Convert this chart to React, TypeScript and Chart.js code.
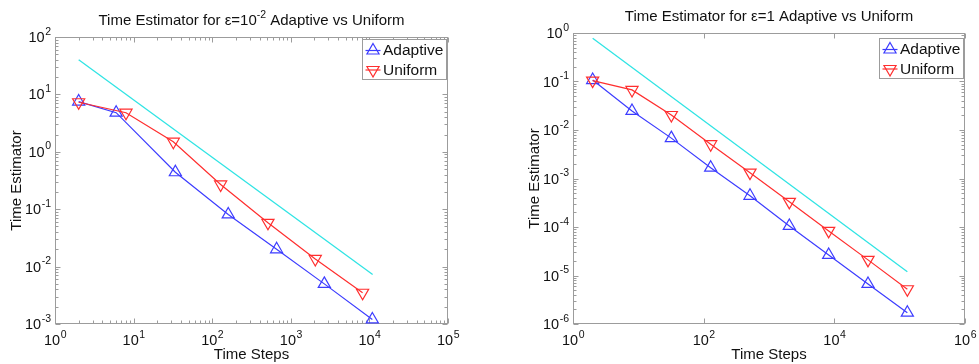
import React, { useEffect, useRef } from 'react';
import { Chart, registerables } from 'chart.js';

Chart.register(...registerables);

// ---------- data ----------
const leftAdaptiveSteps = [2, 6, 34, 160, 660, 2670, 10900];
const leftAdaptiveEst = [7.5, 4.8, 0.44, 0.081, 0.02, 0.005, 0.0012];
const leftUniformSteps = [2, 8, 32, 128, 512, 2048, 8192];
const leftUniformEst = [7.3, 4.8, 1.5, 0.27, 0.058, 0.0136, 0.0035];
const leftRefSteps = [2, 11000];
const leftRefEst = [40, 0.0073];

const rightSteps = [2, 8, 32, 128, 512, 2048, 8192, 32768, 131072];
const rightAdaptiveEst = [0.107, 0.0247, 0.0068, 0.00167, 0.00044, 0.000105, 0.0000265, 0.0000067, 0.00000171];
const rightUniformEst = [0.104, 0.067, 0.0204, 0.0051, 0.00132, 0.00033, 0.000083, 0.000021, 0.0000052];
const rightRefSteps = [2, 131072];
const rightRefEst = [0.78, 0.000012];

// tick exponents (labels are 10^exp)
const leftXTickExp = [0, 1, 2, 3, 4, 5];
const leftYTickExp = [-3, -2, -1, 0, 1, 2];
const rightXTickExp = [0, 2, 4, 6];
const rightYTickExp = [-6, -5, -4, -3, -2, -1, 0];

const leftTitle = [
  { t: 'Time Estimator for \u03b5=10' },
  { t: '-2', sup: true },
  { t: ' Adaptive vs Uniform' },
];
const rightTitle = [{ t: 'Time Estimator for \u03b5=1 Adaptive vs Uniform' }];
const xTitle = 'Time Steps';
const yTitle = 'Time Estimator';
const seriesNames = ['Adaptive', 'Uniform'];

// ---------- styles ----------
const FONT = "'Liberation Sans', Arial, Helvetica, sans-serif";
const AXIS_COLOR = '#9c9c9c';
const TEXT_COLOR = '#111111';
const BLUE = '#3c3cff';
const RED = '#ff2e2e';
const CYAN = '#30e4e4';
const MARKER_R = 7;

function pts(xs: number[], ys: number[]) {
  return xs.map((x, i) => ({ x, y: ys[i] }));
}

function drawTri(ctx: CanvasRenderingContext2D, x: number, y: number, r: number, down: boolean) {
  let rad = down ? Math.PI : 0;
  ctx.beginPath();
  for (let i = 0; i < 3; i++) {
    const px = x + Math.sin(rad) * r;
    const py = y - Math.cos(rad) * r;
    if (i === 0) ctx.moveTo(px, py);
    else ctx.lineTo(px, py);
    rad += (2 * Math.PI) / 3;
  }
  ctx.closePath();
  ctx.stroke();
}

function powWidth(ctx: CanvasRenderingContext2D, exp: string) {
  ctx.font = `14.5px ${FONT}`;
  const w1 = ctx.measureText('10').width;
  ctx.font = `10.5px ${FONT}`;
  const w2 = ctx.measureText(exp).width;
  return [w1, w2];
}

function drawPow(ctx: CanvasRenderingContext2D, exp: string, x: number, baseline: number) {
  ctx.textAlign = 'left';
  ctx.textBaseline = 'alphabetic';
  ctx.font = `14.5px ${FONT}`;
  ctx.fillText('10', x, baseline);
  const w1 = ctx.measureText('10').width;
  ctx.font = `10.5px ${FONT}`;
  ctx.fillText(exp, x + w1 + 0.5, baseline - 7.5);
}

interface AxCfg {
  xExp: number[];
  yExp: number[];
  xMinor: boolean;
  yMinor: boolean;
  title: { t: string; sup?: boolean }[];
  legendTop: number;
}

function minorValues(exps: number[]) {
  const out: number[] = [];
  const lo = Math.min(...exps);
  const hi = Math.max(...exps);
  for (let d = lo; d < hi; d++) {
    for (let k = 2; k <= 9; k++) out.push(k * Math.pow(10, d));
  }
  return out;
}

function makePlugin(cfg: AxCfg) {
  return {
    id: 'matlabAxes',
    beforeDatasetsDraw(chart: any) {
      const { ctx, chartArea: a, scales } = chart;
      const xs = scales.x;
      const ys = scales.y;
      ctx.save();
      ctx.strokeStyle = AXIS_COLOR;
      ctx.lineWidth = 1;
      const L = Math.round(a.left) + 0.5;
      const R = Math.round(a.right) - 0.5;
      const T = Math.round(a.top) + 0.5;
      const B = Math.round(a.bottom) - 0.5;
      ctx.strokeRect(L, T, R - L, B - T);
      const xMajor = cfg.xExp.map((e) => Math.pow(10, e));
      const yMajor = cfg.yExp.map((e) => Math.pow(10, e));
      const xMin = cfg.xMinor ? minorValues(cfg.xExp) : [];
      const yMin = cfg.yMinor ? minorValues(cfg.yExp) : [];
      ctx.beginPath();
      const xt = (v: number, len: number) => {
        const p = Math.round(xs.getPixelForValue(v)) + 0.5;
        ctx.moveTo(p, B);
        ctx.lineTo(p, B - len);
        ctx.moveTo(p, T);
        ctx.lineTo(p, T + len);
      };
      const yt = (v: number, len: number) => {
        const p = Math.round(ys.getPixelForValue(v)) + 0.5;
        ctx.moveTo(L, p);
        ctx.lineTo(L + len, p);
        ctx.moveTo(R, p);
        ctx.lineTo(R - len, p);
      };
      xMajor.forEach((v) => xt(v, 5));
      xMin.forEach((v) => xt(v, 3));
      yMajor.forEach((v) => yt(v, 5));
      yMin.forEach((v) => yt(v, 3));
      ctx.stroke();

      // tick labels
      ctx.fillStyle = TEXT_COLOR;
      cfg.xExp.forEach((e) => {
        const p = xs.getPixelForValue(Math.pow(10, e));
        const s = String(e);
        const [w1, w2] = powWidth(ctx, s);
        drawPow(ctx, s, p - (w1 + w2) / 2, a.bottom + 21);
      });
      cfg.yExp.forEach((e) => {
        const p = ys.getPixelForValue(Math.pow(10, e));
        const s = String(e);
        const [w1, w2] = powWidth(ctx, s);
        drawPow(ctx, s, a.left - 4 - (w1 + w2 + 0.5), p + 5);
      });

      // axis titles
      ctx.font = `15px ${FONT}`;
      ctx.textAlign = 'center';
      ctx.textBaseline = 'alphabetic';
      ctx.fillText(xTitle, (a.left + a.right) / 2, a.bottom + 35);
      ctx.save();
      ctx.translate(a.left - 34, (a.top + a.bottom) / 2);
      ctx.rotate(-Math.PI / 2);
      ctx.fillText(yTitle, 0, 0);
      ctx.restore();

      // chart title with optional superscript
      let total = 0;
      const widths = cfg.title.map((seg) => {
        ctx.font = seg.sup ? `10.5px ${FONT}` : `15px ${FONT}`;
        const w = ctx.measureText(seg.t).width;
        total += w;
        return w;
      });
      let x = (a.left + a.right) / 2 - total / 2;
      const base = a.top - 12;
      ctx.textAlign = 'left';
      cfg.title.forEach((seg, i) => {
        ctx.font = seg.sup ? `10.5px ${FONT}` : `15px ${FONT}`;
        ctx.fillText(seg.t, x, seg.sup ? base - 7 : base);
        x += widths[i];
      });
      ctx.restore();
    },
    afterDatasetsDraw(chart: any) {
      const { ctx, chartArea: a } = chart;
      ctx.save();
      const bw = 84;
      const bh = 40;
      const bx = Math.round(a.right) - 2 - bw + 0.5;
      const by = cfg.legendTop + 0.5;
      ctx.fillStyle = '#ffffff';
      ctx.fillRect(bx, by, bw, bh);
      ctx.strokeStyle = AXIS_COLOR;
      ctx.lineWidth = 1;
      ctx.strokeRect(bx, by, bw, bh);
      const items = seriesNames
        .map((n) => chart.data.datasets.find((d: any) => d.label === n))
        .filter(Boolean);
      items.forEach((d: any, i: number) => {
        const cy = by + 11 + i * 19.5;
        ctx.strokeStyle = d.borderColor;
        ctx.lineWidth = 1.2;
        ctx.beginPath();
        ctx.moveTo(bx + 3, cy);
        ctx.lineTo(bx + 18, cy);
        ctx.stroke();
        drawTri(ctx, bx + 10.5, cy, MARKER_R, d.pointRotation === 180);
        ctx.fillStyle = TEXT_COLOR;
        ctx.font = `15.5px ${FONT}`;
        ctx.textAlign = 'left';
        ctx.textBaseline = 'middle';
        ctx.fillText(d.label, bx + 20.5, cy + 0.5);
      });
      ctx.restore();
    },
  };
}

function lineDs(label: string, data: any[], color: string, down: boolean) {
  return {
    label,
    data,
    borderColor: color,
    backgroundColor: 'rgba(0,0,0,0)',
    borderWidth: 1.2,
    pointStyle: 'triangle',
    pointRotation: down ? 180 : 0,
    pointRadius: MARKER_R,
    pointBorderWidth: 1.2,
    pointBackgroundColor: 'rgba(0,0,0,0)',
    pointBorderColor: color,
    tension: 0,
    clip: false,
  };
}

function refDs(data: any[]) {
  return {
    label: '',
    data,
    borderColor: CYAN,
    borderWidth: 1.3,
    pointRadius: 0,
    tension: 0,
    clip: false,
  };
}

interface PanelProps {
  width: number;
  left: number;
  padding: { left: number; right: number; top: number; bottom: number };
  xMin: number;
  xMax: number;
  yMin: number;
  yMax: number;
  datasets: any[];
  cfg: AxCfg;
}

function Panel(p: PanelProps) {
  const ref = useRef<HTMLCanvasElement>(null);
  useEffect(() => {
    if (!ref.current) return;
    const chart = new Chart(ref.current, {
      type: 'line',
      data: { datasets: p.datasets },
      options: {
        animation: false,
        responsive: false,
        devicePixelRatio: 1,
        layout: { padding: p.padding },
        plugins: { legend: { display: false }, tooltip: { enabled: false }, title: { display: false } },
        scales: {
          x: { type: 'logarithmic', min: p.xMin, max: p.xMax, display: false },
          y: { type: 'logarithmic', min: p.yMin, max: p.yMax, display: false },
        },
      },
      plugins: [makePlugin(p.cfg)],
    } as any);
    return () => chart.destroy();
  }, []);
  return (
    <canvas
      ref={ref}
      width={p.width}
      height={364}
      style={{ position: 'absolute', left: p.left, top: 0, width: p.width, height: 364 }}
    />
  );
}

export default function App() {
  return (
    <div style={{ position: 'fixed', left: 0, top: 0, width: 979, height: 364, background: '#fff' }}>
      <Panel
        width={490}
        left={0}
        padding={{ left: 55, right: 42, top: 37, bottom: 40 }}
        xMin={1}
        xMax={1e5}
        yMin={1e-3}
        yMax={1e2}
        datasets={[
          refDs(pts(leftRefSteps, leftRefEst)),
          lineDs(seriesNames[1], pts(leftUniformSteps, leftUniformEst), RED, true),
          lineDs(seriesNames[0], pts(leftAdaptiveSteps, leftAdaptiveEst), BLUE, false),
        ]}
        cfg={{ xExp: leftXTickExp, yExp: leftYTickExp, xMinor: true, yMinor: true, title: leftTitle, legendTop: 39 }}
      />
      <Panel
        width={489}
        left={490}
        padding={{ left: 83, right: 14, top: 33, bottom: 40 }}
        xMin={1}
        xMax={1e6}
        yMin={1e-6}
        yMax={1}
        datasets={[
          refDs(pts(rightRefSteps, rightRefEst)),
          lineDs(seriesNames[1], pts(rightSteps, rightUniformEst), RED, true),
          lineDs(seriesNames[0], pts(rightSteps, rightAdaptiveEst), BLUE, false),
        ]}
        cfg={{ xExp: rightXTickExp, yExp: rightYTickExp, xMinor: false, yMinor: true, title: rightTitle, legendTop: 38 }}
      />
    </div>
  );
}
